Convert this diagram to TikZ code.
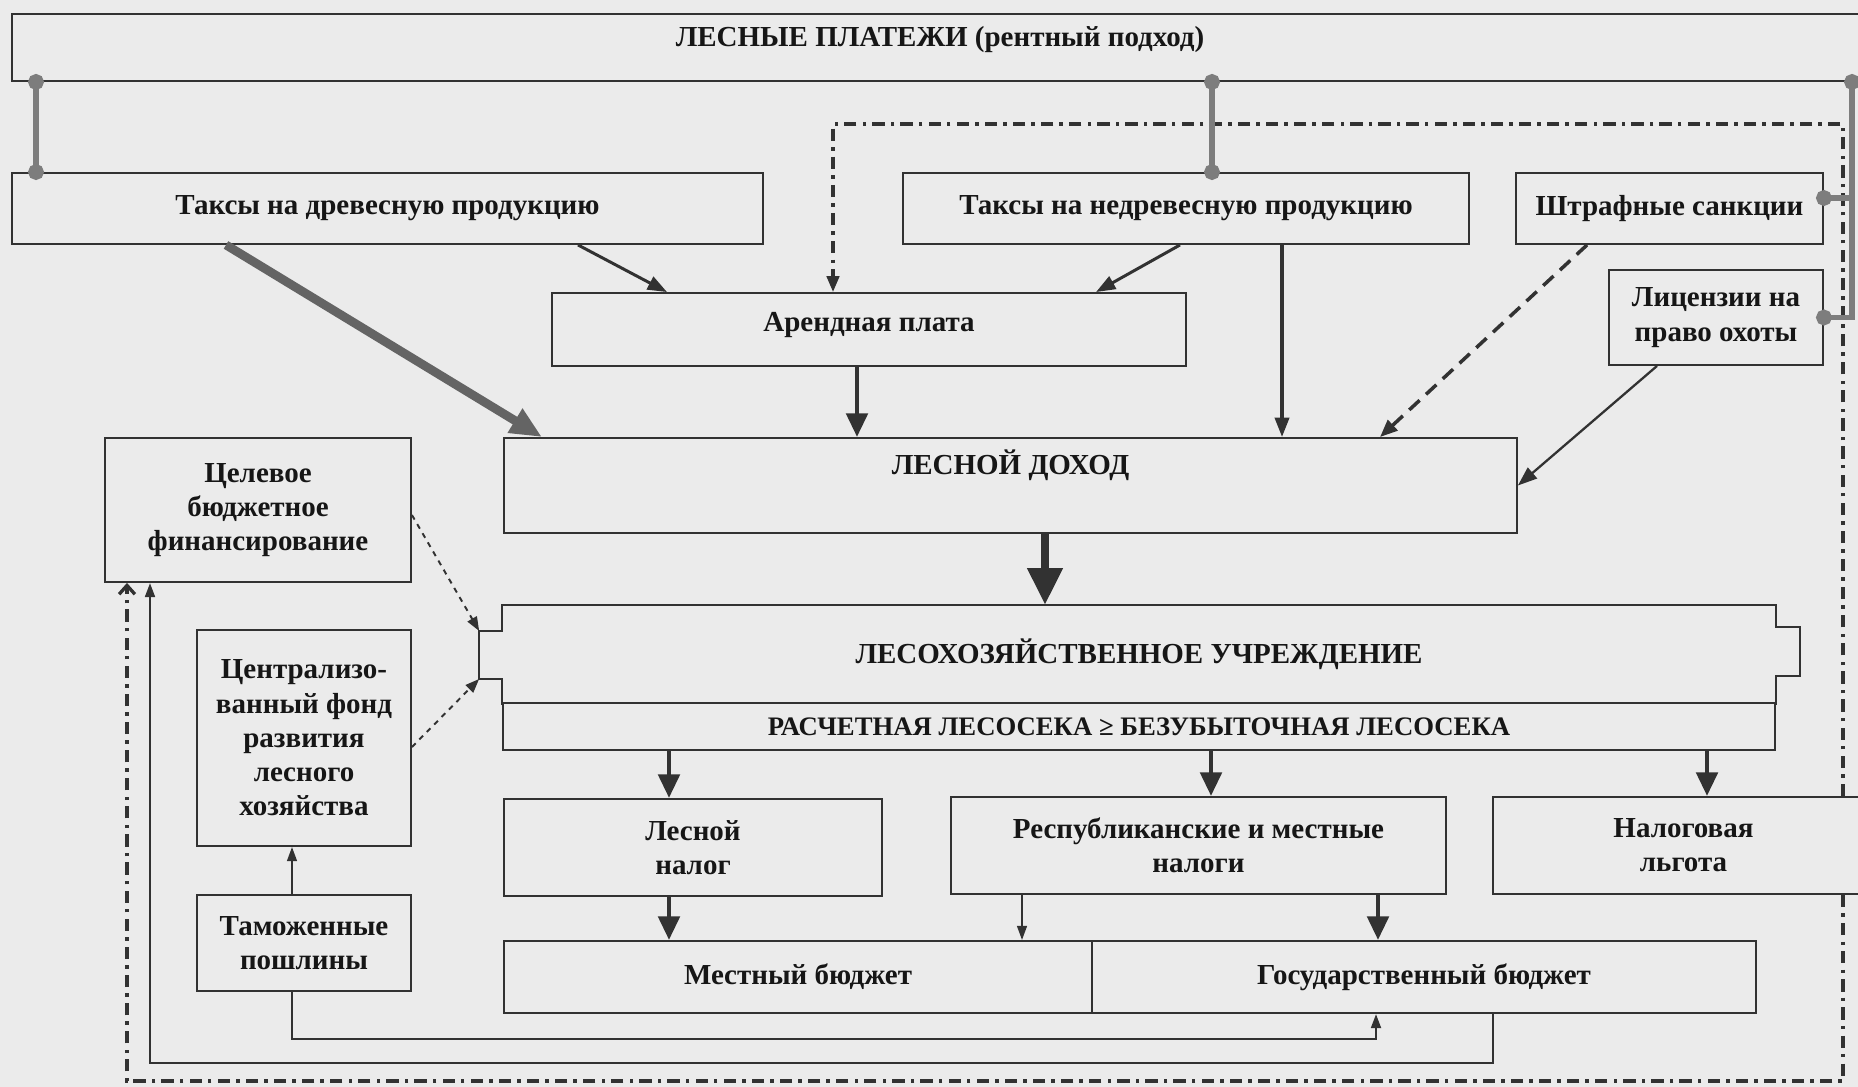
\documentclass[tikz,border=0pt]{standalone}
\usepackage{fontspec}
\setmainfont{Liberation Serif}
\usetikzlibrary{arrows.meta}
\definecolor{paperCol}{RGB}{235, 235, 235}
\definecolor{lineCol}{RGB}{50, 50, 50}
\definecolor{linkCol}{RGB}{125, 125, 125}
\definecolor{heavyCol}{RGB}{100, 100, 100}
\definecolor{textCol}{RGB}{22, 22, 22}

\begin{document}
\begin{tikzpicture}[
    x=0.02cm, y=-0.02cm,
    font=\fontsize{16.5}{19.5}\selectfont\bfseries,
    boxLine/.style={draw=lineCol, line width=1.1pt},
    fundBox/.style={boxLine, fill=paperCol, text=textCol, align=center, inner sep=2pt},
    liftText/.style={text height=11pt, text depth=#1},
    flowArrow/.style={-{Triangle[length=11pt, width=8pt]}, draw=lineCol, line width=1.7pt},
    mainArrow/.style={-{Triangle[length=13.5pt, width=12pt]}, draw=lineCol, line width=2.8pt},
    bigArrow/.style={-{Triangle[length=21pt, width=19pt]}, draw=lineCol, line width=5pt},
    heavyArrow/.style={-{Triangle[length=18pt, width=15pt]}, draw=heavyCol, line width=5pt},
    thinArrow/.style={-{Triangle[length=8pt, width=5.5pt]}, draw=lineCol, line width=1.2pt},
    dashArrow/.style={-{Triangle[length=10pt, width=8pt]}, draw=lineCol, line width=2pt,
        dash pattern=on 8pt off 5pt},
    hintArrow/.style={-{Triangle[length=8pt, width=6pt]}, draw=lineCol, line width=1.1pt,
        dash pattern=on 3pt off 3pt},
    tollLine/.style={draw=lineCol, line width=1.9pt,
        dash pattern=on 7pt off 3.5pt on 2pt off 3.5pt},
    linkBar/.style={{Circle[length=9pt]}-{Circle[length=9pt]}, draw=linkCol, line width=3pt,
        shorten <=-4.5pt, shorten >=-4.5pt}
]

    \useasboundingbox (0,0) rectangle (1858,1087);
    \clip (0,0) rectangle (1858,1087);
    \fill[paperCol] (0,0) rectangle (1858,1087);

    % ---------------- payments and their sources ----------------
    \node[fundBox, minimum width=37.12cm, minimum height=1.34cm, liftText=12pt] (platezhi)
        at (940, 47.5) {ЛЕСНЫЕ ПЛАТЕЖИ (рентный подход)};
    \node[fundBox, minimum width=15.02cm, minimum height=1.42cm] (takDrev)
        at (387.5, 208.5) {Таксы на древесную продукцию};
    \node[fundBox, minimum width=11.32cm, minimum height=1.42cm] (takNedrev)
        at (1186, 208.5) {Таксы на недревесную продукцию};
    \node[fundBox, minimum width=6.14cm, minimum height=1.42cm] (shtraf)
        at (1669.5, 208.5) {Штрафные санкции};
    \node[fundBox, minimum width=4.28cm, minimum height=1.9cm] (licenz)
        at (1716, 317.5) {Лицензии на\\право охоты};
    \node[fundBox, minimum width=12.68cm, minimum height=1.46cm, liftText=9pt] (arend)
        at (869, 329.5) {Арендная плата};
    \node[fundBox, minimum width=20.26cm, minimum height=1.9cm, liftText=24pt] (dohod)
        at (1010.5, 485.5) {ЛЕСНОЙ ДОХОД};

    % ---------------- left column ----------------
    \node[fundBox, minimum width=6.12cm, minimum height=2.88cm] (celevoe)
        at (258, 510) {Целевое\\бюджетное\\финансирование};
    \node[fundBox, minimum width=4.28cm, minimum height=4.32cm] (centr)
        at (304, 738) {Централизо-\\ванный фонд\\развития\\лесного\\хозяйства};
    \node[fundBox, minimum width=4.28cm, minimum height=1.92cm] (tamoz)
        at (304, 943) {Таможенные\\пошлины};

    % ---------------- forestry office ----------------
    \node[fundBox, draw=none, minimum width=25.44cm, minimum height=1.94cm] (lesxoz)
        at (1139, 654.5) {ЛЕСОХОЗЯЙСТВЕННОЕ УЧРЕЖДЕНИЕ};
    \draw[boxLine] (lesxoz.north west) -- (lesxoz.north east) -- ++(0,22) -- ++(24,0)
        -- ++(0,49) -- ++(-24,0) -- (lesxoz.south east) -- (lesxoz.south west)
        -- ++(0,-25) -- ++(-23,0) coordinate (notchBot) -- ++(0,-48) coordinate (notchTop)
        -- ++(23,0) -- cycle;
    \node[fundBox, minimum width=25.44cm, minimum height=0.94cm,
        font=\fontsize{15.2}{17}\selectfont\bfseries] (raschet)
        at (1139, 726.5) {РАСЧЕТНАЯ ЛЕСОСЕКА ≥ БЕЗУБЫТОЧНАЯ ЛЕСОСЕКА};

    % ---------------- taxes and budgets ----------------
    \node[fundBox, minimum width=7.56cm, minimum height=1.94cm] (lesNalog)
        at (693, 847.5) {Лесной\\налог};
    \node[fundBox, minimum width=9.9cm, minimum height=1.94cm] (respNalog)
        at (1198.5, 845.5) {Республиканские и местные\\налоги};
    \node[fundBox, minimum width=7.62cm, minimum height=1.94cm] (nalLgota)
        at (1683.5, 845.5) {Налоговая\\льгота};
    \node[fundBox, minimum width=11.76cm, minimum height=1.44cm] (mestBudget)
        at (798, 977) {Местный бюджет};
    \node[fundBox, minimum width=13.28cm, minimum height=1.44cm] (gosBudget)
        at (1424, 977) {Государственный бюджет};

    % ---------------- dash-dot returns of the tax relief ----------------
    \coordinate (dashTop) at (833, 124);
    \coordinate (dashBot) at (127, 1081);
    \coordinate (dashCol) at (1843, 0);
    \draw[tollLine, -{Triangle[length=9pt, width=7pt]}]
        (dashCol |- nalLgota.north) |- (dashTop) -- (dashTop |- arend.north);
    \draw[tollLine, -{Straight Barb[length=5pt, width=9pt]}]
        (dashCol |- nalLgota.south) |- (dashBot) -- (dashBot |- celevoe.south);

    % ---------------- links from the payments box ----------------
    \coordinate (rlink) at (1852, 0);
    \draw[linkBar] (36,0 |- platezhi.south) -- (36,0 |- takDrev.north);
    \draw[linkBar] (1212,0 |- platezhi.south) -- (1212,0 |- takNedrev.north);
    \draw[linkBar] (rlink |- platezhi.south) |- (licenz.east);
    \draw[linkBar, -{Circle[length=9pt]}, shorten <=0pt]
        (rlink |- 0,198) -- (shtraf.east |- 0,198);

    % ---------------- into the forest income ----------------
    \draw[heavyArrow] (226,0 |- takDrev.south) -- (542,0 |- dohod.north);
    \draw[flowArrow] (578,0 |- takDrev.south) -- (667,0 |- arend.north);
    \draw[flowArrow] (1180,0 |- takNedrev.south) -- (1096,0 |- arend.north);
    \draw[flowArrow, line width=2pt] (1282,0 |- takNedrev.south) -- (1282,0 |- dohod.north);
    \draw[mainArrow] (857,0 |- arend.south) -- (857,0 |- dohod.north);
    \draw[dashArrow] (1587,0 |- shtraf.south) -- (1380,0 |- dohod.north);
    \draw[flowArrow, line width=1.3pt] (1657,0 |- licenz.south) -- (dohod.east);

    % ---------------- income -> office ----------------
    \draw[bigArrow] (1045,0 |- dohod.south) -- (1045,0 |- lesxoz.north);
    \draw[hintArrow] (celevoe.east |- 0,515) -- (notchTop);
    \draw[hintArrow] (centr.east |- 0,747) -- (notchBot);

    % ---------------- office -> taxes -> budgets ----------------
    \draw[mainArrow] (669,0 |- raschet.south) -- (669,0 |- lesNalog.north);
    \draw[mainArrow] (1211,0 |- raschet.south) -- (1211,0 |- respNalog.north);
    \draw[mainArrow] (1707,0 |- raschet.south) -- (1707,0 |- nalLgota.north);
    \draw[mainArrow] (669,0 |- lesNalog.south) -- (669,0 |- mestBudget.north);
    \draw[thinArrow] (1022,0 |- respNalog.south) -- (1022,0 |- mestBudget.north);
    \draw[mainArrow] (1378,0 |- respNalog.south) -- (1378,0 |- gosBudget.north);

    % ---------------- customs and budget returns ----------------
    \draw[thinArrow] (292,0 |- tamoz.north) -- (292,0 |- centr.south);
    \draw[thinArrow, line width=1.5pt] (292,0 |- tamoz.south) |- (1376,1039)
        -- (1376,0 |- gosBudget.south);
    \draw[thinArrow, line width=1.5pt] (1493,0 |- gosBudget.south) |- (150,1063)
        -- (150,0 |- celevoe.south);

\end{tikzpicture}
\end{document}
